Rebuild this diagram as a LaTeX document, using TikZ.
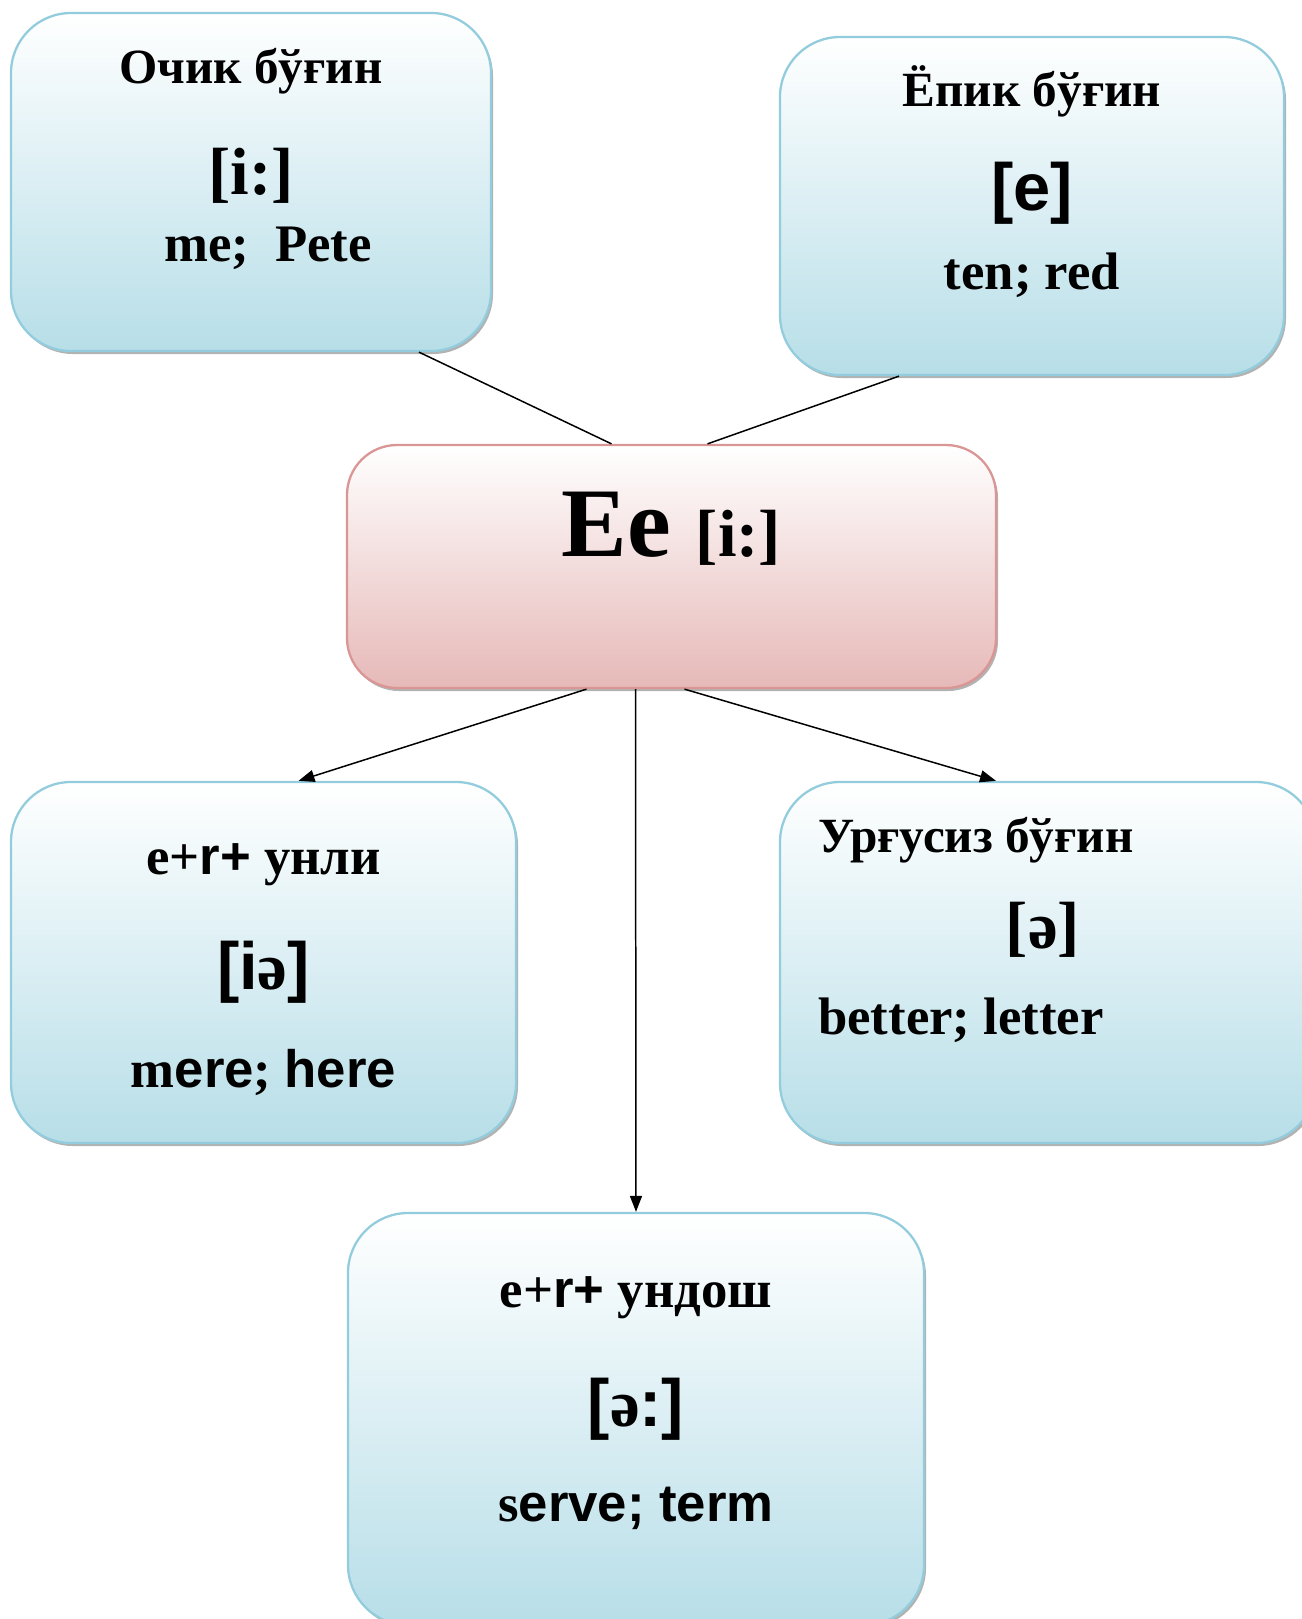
\documentclass[tikz,border=0pt]{standalone}
\usepackage{fontspec}
\setmainfont{Liberation Serif}
\newfontfamily\arialf{Liberation Sans}
\usetikzlibrary{positioning,shadows,arrows.meta}

\definecolor{boxline}{HTML}{93CDDD}
\definecolor{boxfill}{HTML}{B7DEE8}
\definecolor{eeline}{HTML}{D99694}
\definecolor{eefill}{HTML}{E6B9B8}

\newcommand{\fsz}[1]{\fontsize{#1}{#1}\selectfont}

\tikzset{
  bluebox/.style={draw=boxline, line width=1.3pt, rounded corners=1.2cm, inner sep=0pt,
    top color=white, bottom color=boxfill,
    drop shadow={shadow xshift=0.4mm, shadow yshift=-0.6mm, fill=black!60, opacity=0.5}},
  pinkbox/.style={bluebox, draw=eeline, rounded corners=1cm, bottom color=eefill},
  ttl/.style={anchor=base, inner sep=0pt, font=\bfseries\fsz{28}},
  snd/.style={anchor=base, inner sep=0pt, font=\bfseries\fsz{38}},
  wrd/.style={anchor=base, inner sep=0pt, font=\bfseries\fsz{30}},
  conn/.style={line width=0.85pt},
  arr/.style={conn, -{Triangle[length=3.2mm,width=2.4mm]}}
}

\begin{document}
\begin{tikzpicture}
  \useasboundingbox (0,0) rectangle (26.04,-32.38);
  \clip (0,0) rectangle (26.04,-32.38);

  % boxes
  \node[bluebox, minimum width=9.6cm, minimum height=6.76cm] (ocik) at (5.02,-3.64) {};
  \node[bluebox, minimum width=10.08cm, minimum height=6.76cm] (epik) at (20.64,-4.12) {};
  \node[pinkbox, minimum width=12.98cm, minimum height=4.86cm] (ee) at (13.43,-11.33) {};
  \node[bluebox, minimum width=10.1cm, minimum height=7.22cm] (unli) at (5.27,-19.25) {};
  \node[bluebox, minimum width=10.72cm, minimum height=7.22cm] (urgusiz) at (20.96,-19.25) {};
  \node[bluebox, minimum width=11.52cm, minimum height=8.24cm] (undosh) at (12.72,-28.38) {};

  % texts
  \node[ttl] (ocikT) at ([yshift=-1.44cm]ocik.north) {Очик бўғин};
  \node[snd] (ocikS) at ([yshift=-3.66cm]ocik.north) {[i:]};
  \node[wrd] (ocikW) at ([xshift=0.34cm,yshift=-5cm]ocik.north) {me;\ \ Pete};

  \node[ttl] (epikT) at ([yshift=-1.42cm]epik.north) {Ёпик бўғин};
  \node[snd] (epikS) at ([yshift=-3.5cm]epik.north) {\arialf[e]};
  \node[wrd] (epikW) at ([yshift=-5.08cm]epik.north) {ten; red};

  \node[anchor=base, inner sep=0pt, font=\bfseries] (eeT) at ([yshift=-2.26cm]ee.north) {\fsz{56}Ee \fsz{38}[i:]};

  \node[ttl, font=\bfseries\fsz{30}] (unliT) at ([yshift=-1.88cm]unli.north) {e+{\arialf r+} унли};
  \node[snd] (unliS) at ([yshift=-4.18cm]unli.north) {{\arialf[i}ə{\arialf]}};
  \node[wrd] (unliW) at ([yshift=-6.14cm]unli.north) {m{\arialf ere}; {\arialf here}};

  \node[ttl, anchor=base west] (urgusizT) at ([xshift=0.78cm,yshift=-1.44cm]urgusiz.north west) {Урғусиз бўғин};
  \node[snd] (urgusizS) at ([xshift=-0.1cm,yshift=-3.36cm]urgusiz.north) {[ə]};
  \node[wrd, anchor=base west] (urgusizW) at ([xshift=0.78cm,yshift=-5.08cm]urgusiz.north west) {better; letter};

  \node[ttl, font=\bfseries\fsz{30}] (undoshT) at ([yshift=-1.92cm]undosh.north) {e+{\arialf r+} ундош};
  \node[snd] (undoshS) at ([yshift=-4.3cm]undosh.north) {{\arialf[}ə{\arialf:]}};
  \node[wrd] (undoshW) at ([yshift=-6.2cm]undosh.north) {s{\arialf erve; term}};

  % connectors
  \draw[conn] ([xshift=3.36cm]ocik.south) -- ([xshift=-1.2cm]ee.north);
  \draw[conn] ([xshift=-2.66cm]epik.south) -- ([xshift=0.72cm]ee.north);
  \draw[arr] ([xshift=-1.7cm]ee.south) -- ([xshift=0.7cm]unli.north);
  \draw[arr] ([xshift=-0.72cm]ee.south) -- (undosh.north);
  \draw[arr] ([xshift=0.26cm]ee.south) -- ([xshift=-1.04cm]urgusiz.north);
\end{tikzpicture}
\end{document}
